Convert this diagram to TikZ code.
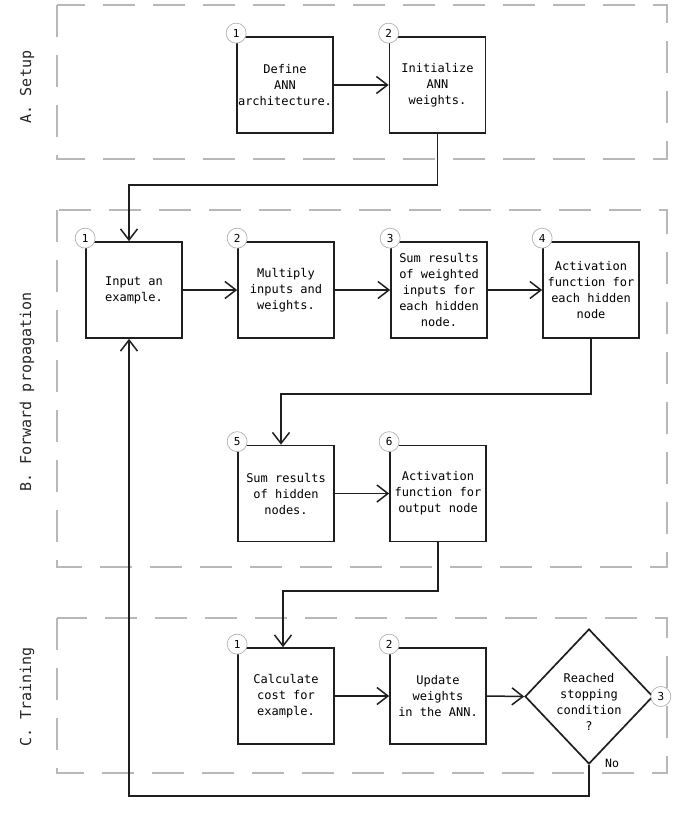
\documentclass[tikz,border=0pt]{standalone}
\usepackage{fontspec}
\setmainfont{DejaVu Sans Mono}
\usetikzlibrary{arrows.meta,calc,shapes.geometric}
\begin{document}
\begin{tikzpicture}[x=1pt,y=-1pt,
  stepbox/.style={draw=black!88, line width=1.7pt, minimum width=96pt, minimum height=96pt,
    inner sep=0pt, align=center, font=\fontsize{12}{16}\selectfont},
  decision/.style={draw=black!88, line width=1.7pt, diamond, minimum width=128pt,
    minimum height=135pt, inner sep=0pt},
  dtext/.style={align=center, inner sep=0pt, font=\fontsize{12}{16}\selectfont},
  badge/.style={circle, draw=black!30, fill=white, line width=0.7pt, minimum size=20pt,
    inner sep=0pt, font=\fontsize{11}{11}\selectfont},
  conn/.style={draw=black!88, line width=1.5pt, -{Straight Barb[length=11pt,width=17pt,line width=1.5pt]}},
  lane/.style={draw=black!28, line width=1.5pt, dash pattern=on 32pt off 18pt},
  lanelabel/.style={rotate=90, font=\fontsize{15}{16}\selectfont, text=black!85},
  small/.style={font=\fontsize{11.5}{12}\selectfont, inner sep=0pt}
]
\useasboundingbox (0,0) rectangle (683,819);
\fill[white] (0,0) rectangle (683,819);

% lanes
\draw[lane] (57,5) rectangle (667,159);
\draw[lane] (57,210) rectangle (667,567);
\draw[lane] (57,618) rectangle (667,773);
\node[lanelabel] (la) at (27,87) {A. Setup};
\node[lanelabel] (lb) at (27,392) {B. Forward propagation};
\node[lanelabel] (lc) at (27,697) {C. Training};

% A. Setup
\node[stepbox] (a1) at (285,85) {Define\\ANN\\architecture.};
\node[stepbox] (a2) at (437.5,85) {Initialize\\ANN\\weights.};

% B. Forward propagation
\node[stepbox] (b1) at (134,290) {Input an\\example.};
\node[stepbox] (b2) at (286,290) {Multiply\\inputs and\\weights.};
\node[stepbox] (b3) at (439,290) {Sum results\\of weighted\\inputs for\\each hidden\\node.};
\node[stepbox] (b4) at (591,290) {Activation\\function for\\each hidden\\node};
\node[stepbox] (b5) at (286,493.5) {Sum results\\of hidden\\nodes.};
\node[stepbox] (b6) at (438,493.5) {Activation\\function for\\output node};

% C. Training
\node[stepbox] (c1) at (286,696) {Calculate\\cost for\\example.};
\node[stepbox] (c2) at (438,696) {Update\\weights\\in the ANN.};
\node[decision] (d) at (589,696.5) {};
\node[dtext] (dt) at (589,702) {Reached\\stopping\\condition\\?};
\node[small, anchor=center] (no) at (612,763) {No};

% connectors
\draw[conn] (a1.east) -- (a2.west);
\draw[conn] (a2.south) -- ++(0,51) -| ($(b1.north)+(-5,0)$);
\draw[conn] (b1.east) -- (b2.west);
\draw[conn] (b2.east) -- (b3.west);
\draw[conn] (b3.east) -- (b4.west);
\draw[conn] (b4.south) -- ++(0,55) -| ($(b5.north)+(-5,0)$);
\draw[conn] (b5.east) -- (b6.west);
\draw[conn] (b6.south) -- ++(0,48.5) -| ($(c1.north)+(-3,0)$);
\draw[conn] (c1.east) -- (c2.west);
\draw[conn] (c2.east) -- (d.west);
\draw[conn] (d.south) -- ++(0,31) -| ($(b1.south)+(-5,0)$);

% badges
\node[badge] (na1) at ($(a1.north west)+(0,-3)$) {1};
\node[badge] (na2) at ($(a2.north west)+(0,-3)$) {2};
\node[badge] (nb1) at ($(b1.north west)+(0,-3)$) {1};
\node[badge] (nb2) at ($(b2.north west)+(0,-3)$) {2};
\node[badge] (nb3) at ($(b3.north west)+(0,-3)$) {3};
\node[badge] (nb4) at ($(b4.north west)+(0,-3)$) {4};
\node[badge] (nb5) at ($(b5.north west)+(0,-3)$) {5};
\node[badge] (nb6) at ($(b6.north west)+(0,-3)$) {6};
\node[badge] (nc1) at ($(c1.north west)+(0,-3)$) {1};
\node[badge] (nc2) at ($(c2.north west)+(0,-3)$) {2};
\node[badge] (nc3) at ($(d.east)+(7,0)$) {3};
\end{tikzpicture}
\end{document}
